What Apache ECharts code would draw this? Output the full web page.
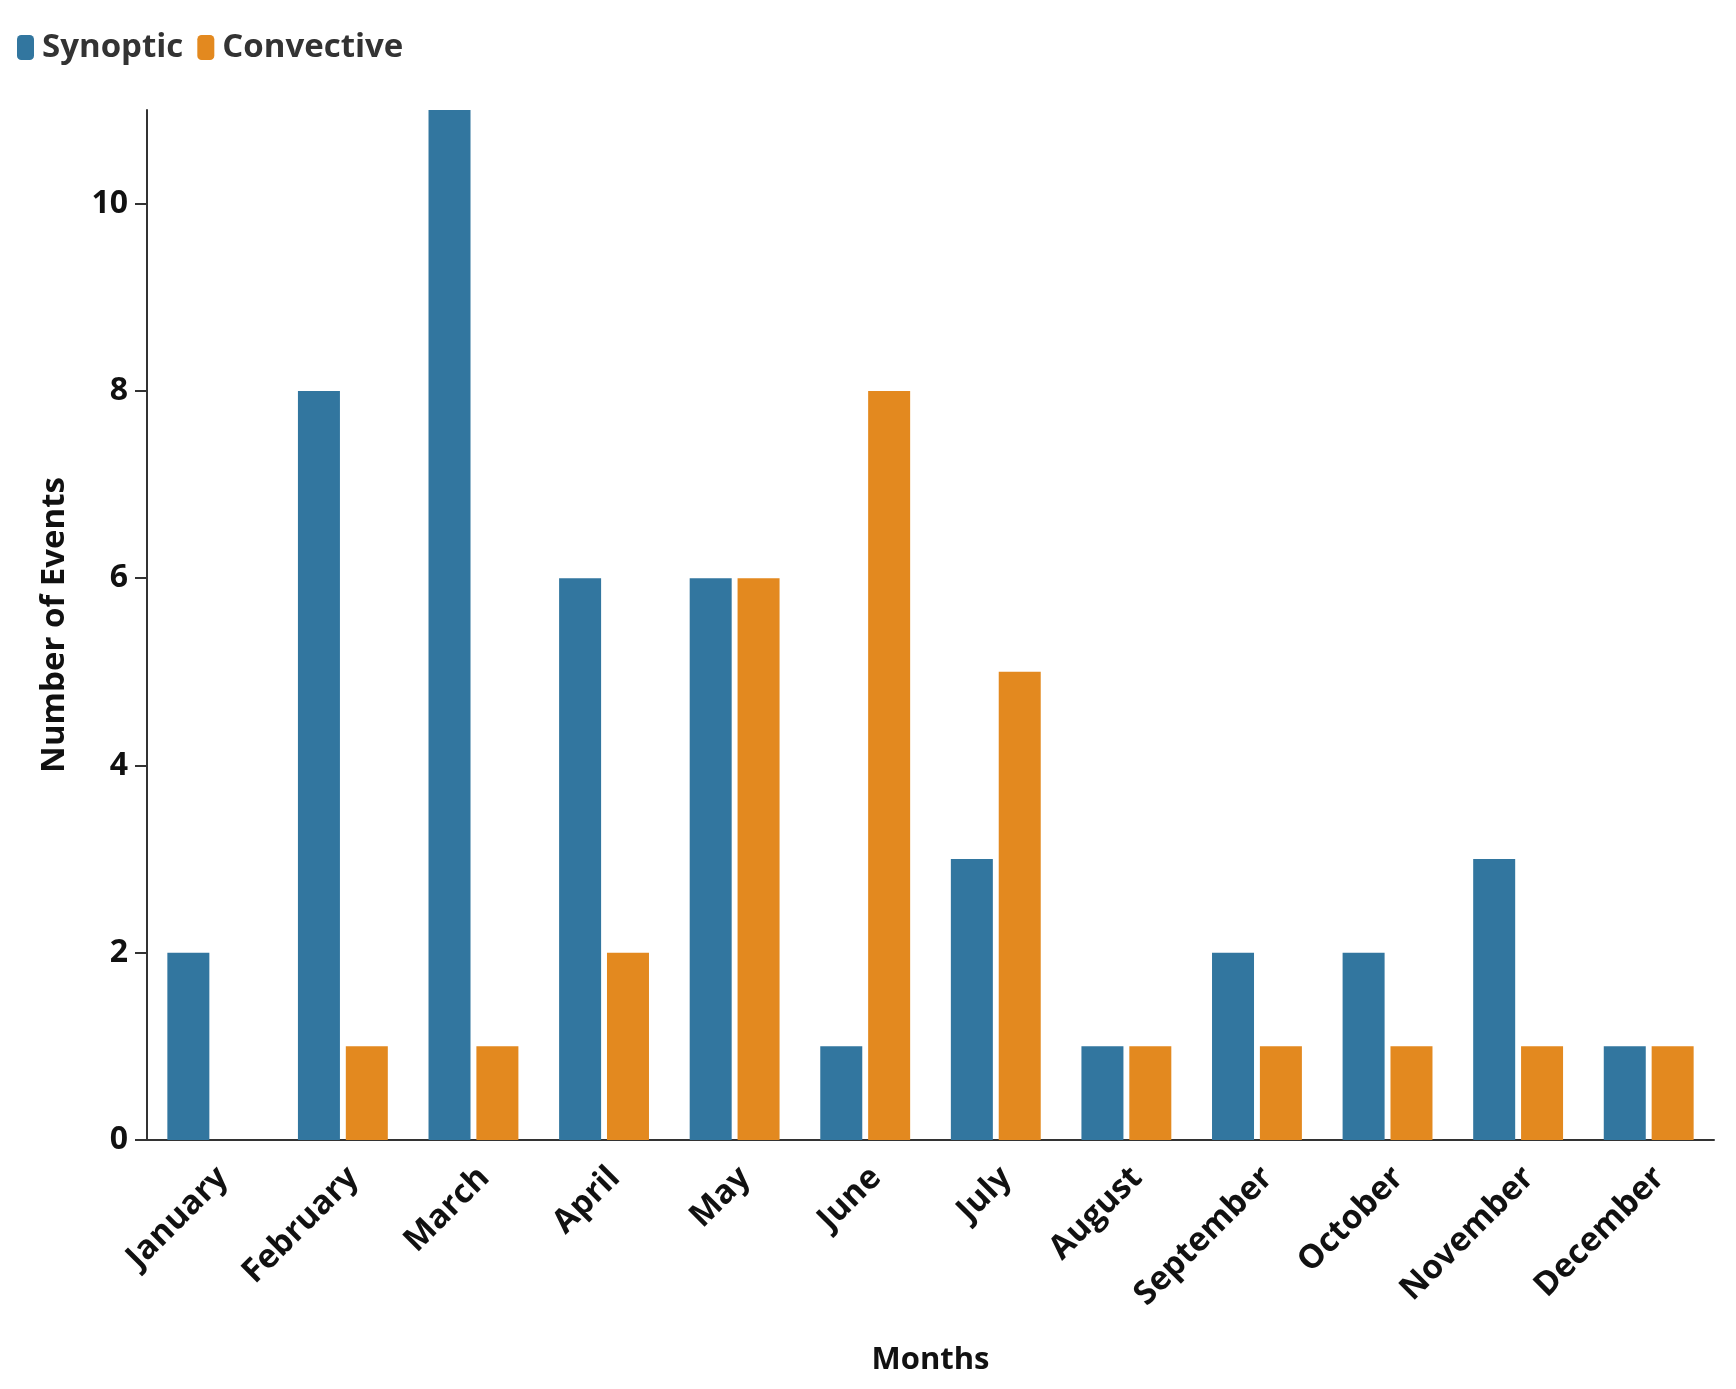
<!DOCTYPE html>
<html>
<head>
<meta charset="utf-8">
<script src="https://cdn.jsdelivr.net/npm/echarts@6/dist/echarts.min.js"></script>
<style>
html,body{margin:0;padding:0;background:#fff;}
#chart{width:1736px;height:1389px;}
</style>
</head>
<body>
<div id="chart"></div>
<script>
const months = ['January','February','March','April','May','June','July','August','September','October','November','December'];
const synoptic = [2, 8, 11, 6, 6, 1, 3, 1, 2, 2, 3, 1];
const convective = [0, 1, 1, 2, 6, 8, 5, 1, 1, 1, 1, 1];
const yTicks = [0, 2, 4, 6, 8, 10];

const FONT = '"Open Sans", "DejaVu Sans", sans-serif';
const chart = echarts.init(document.getElementById('chart'));
chart.setOption({
  backgroundColor: '#ffffff',
  animation: false,
  textStyle: { fontFamily: FONT },
  legend: {
    left: 12, top: 26,
    icon: 'roundRect',
    itemWidth: 17, itemHeight: 25,
    itemGap: 14,
    textStyle: { fontSize: 33, fontWeight: 'bold', color: '#333', fontFamily: FONT, padding: [0, 0, 0, 3] },
    data: ['Synoptic', 'Convective']
  },
  grid: { left: 147, right: 22, top: 110, bottom: 249, containLabel: false },
  xAxis: {
    type: 'category',
    data: months,
    name: 'Months',
    nameLocation: 'middle',
    nameGap: 205,
    nameTextStyle: { fontSize: 31, fontWeight: 'bold', color: '#111', fontFamily: FONT },
    axisLine: { lineStyle: { color: '#333', width: 2 } },
    axisTick: { alignWithLabel: true, length: 12, lineStyle: { color: '#333', width: 2 } },
    axisLabel: {
      rotate: 45, margin: 22, interval: 0,
      formatter: v => '{m|' + v + '}',
      rich: { m: { fontSize: 33, fontWeight: 'bold', color: '#111', fontFamily: FONT, padding: [30, 0, 0, 0] } }
    }
  },
  yAxis: {
    type: 'value',
    min: 0, max: 11, interval: 2,
    name: 'Number of Events',
    nameLocation: 'middle',
    nameGap: 76,
    nameRotate: 90,
    nameTextStyle: { fontSize: 33, fontWeight: 'bold', color: '#111', fontFamily: FONT },
    splitLine: { show: false },
    axisLine: { show: true, lineStyle: { color: '#333', width: 2 } },
    axisTick: { show: true, length: 12, customValues: yTicks, lineStyle: { color: '#333', width: 2 } },
    axisLabel: {
      fontSize: 32, fontWeight: 'bold', color: '#111', margin: 19, fontFamily: FONT,
      customValues: yTicks,
      formatter: v => (yTicks.indexOf(v) >= 0 ? String(v) : '')
    }
  },
  series: [
    {
      name: 'Synoptic', type: 'bar', data: synoptic,
      barWidth: 42, barGap: '14%',
      itemStyle: { color: '#32769f' }
    },
    {
      name: 'Convective', type: 'bar', data: convective,
      barWidth: 42, barGap: '14%',
      itemStyle: { color: '#e3891f' }
    }
  ]
});
</script>
</body>
</html>
